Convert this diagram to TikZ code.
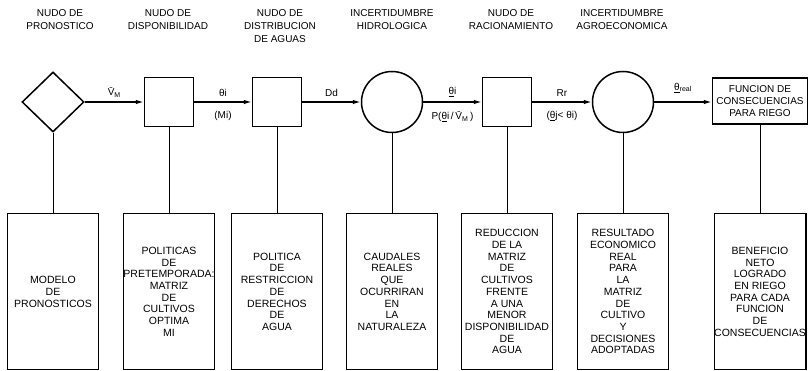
\documentclass[tikz,border=0pt]{standalone}
\usepackage{fontspec}
\setmainfont{Liberation Sans}
\usetikzlibrary{shapes.geometric,arrows.meta}

\begin{document}
\begin{tikzpicture}[x=1pt,y=-1pt,
			every node/.style={font=\fontsize{10}{11.7}\selectfont,inner sep=1pt},
			nudo/.style={draw,line width=1.5pt,minimum size=49pt,inner sep=0pt},
			azar/.style={circle,draw,line width=1.5pt,minimum size=61pt,inner sep=0pt},
			pron/.style={diamond,draw,line width=1.5pt,minimum width=62pt,minimum height=60pt,inner sep=0pt},
			caja/.style={draw,line width=1.4pt,minimum width=91pt,minimum height=156pt,anchor=north,align=center,inner sep=0pt,font=\fontsize{10.5}{11.7}\selectfont},
			titulo/.style={anchor=north,align=center,font=\fontsize{10}{13}\selectfont},
			flecha/.style={line width=1.3pt,-{Latex[length=8pt,width=4.5pt]}},
			enlace/.style={line width=0.7pt}]
			\useasboundingbox (0,0) rectangle (812,371);
			% titulos
			\node[titulo] (t1) at (60,8) {NUDO DE\\PRONOSTICO};
			\node[titulo] (t2) at (168,8) {NUDO DE\\DISPONIBILIDAD};
			\node[titulo] (t3) at (280,8) {NUDO DE\\DISTRIBUCION\\DE AGUAS};
			\node[titulo] (t4) at (392,8) {INCERTIDUMBRE\\HIDROLOGICA};
			\node[titulo] (t5) at (511,8) {NUDO DE\\RACIONAMIENTO};
			\node[titulo] (t6) at (622,8) {INCERTIDUMBRE\\AGROECONOMICA};
			% nudos
			\node[pron] (pr) at (53,102) {};
			\node[nudo] (di) at (169,102) {};
			\node[nudo] (dt) at (277,102) {};
			\node[azar] (hi) at (392,102) {};
			\node[nudo] (ra) at (507,102) {};
			\node[azar] (ag) at (623,102) {};
			\node[draw,line width=1.5pt,minimum width=95pt,minimum height=46pt,align=center,inner sep=0pt] (fc) at (760,101) {FUNCION DE\\CONSECUENCIAS\\PARA RIEGO};
			% flechas
			\draw[flecha] (pr) -- node[above=3pt]{\={V}\textsubscript{M}} (di);
			\draw[flecha] (di) -- node[above=4pt]{θi} node[below=8pt]{(Mi)} (dt);
			\draw[flecha] (dt) -- node[above=4pt]{Dd} (hi);
			\draw[flecha] (hi) -- node[above=4pt]{\underline{θ}i} node[below=8pt]{P(\underline{θ}i\,/\,\={V}\textsubscript{M}\,)} (ra);
			\draw[flecha] (ra) -- node[above=4pt]{Rr} node[below=8pt]{(\underline{θ}j< θi)} (ag);
			\draw[flecha] (ag.east) -- node[above=8pt]{\underline{θ}\textsubscript{real}} (ag.east -| fc.west);
			% cajas
			\node[caja] (b1) at (53,213) {MODELO\\DE\\PRONOSTICOS};
			\node[caja] (b2) at (169,213) {POLITICAS\\DE\\PRETEMPORADA:\\MATRIZ\\DE\\CULTIVOS\\OPTIMA\\MI};
			\node[caja] (b3) at (277,213) {POLITICA\\DE\\RESTRICCION\\DE\\DERECHOS\\DE\\AGUA};
			\node[caja] (b4) at (392,213) {CAUDALES\\REALES\\QUE\\OCURRIRAN\\EN\\LA\\NATURALEZA};
			\node[caja] (b5) at (507,213) {REDUCCION\\DE LA\\MATRIZ\\DE\\CULTIVOS\\FRENTE\\A UNA\\MENOR\\DISPONIBILIDAD\\DE\\AGUA};
			\node[caja] (b6) at (623,213) {RESULTADO\\ECONOMICO\\REAL\\PARA\\LA\\MATRIZ\\DE\\CULTIVO\\Y\\DECISIONES\\ADOPTADAS};
			\node[caja] (b7) at (760,213) {BENEFICIO\\NETO\\LOGRADO\\EN RIEGO\\PARA CADA\\FUNCION\\DE\\CONSECUENCIAS};
			\foreach \a/\b in {pr/b1,di/b2,dt/b3,hi/b4,ra/b5,ag/b6,fc/b7}
				\draw[enlace] (\a.south) -- (\b.north);
		\end{tikzpicture}
\end{document}
